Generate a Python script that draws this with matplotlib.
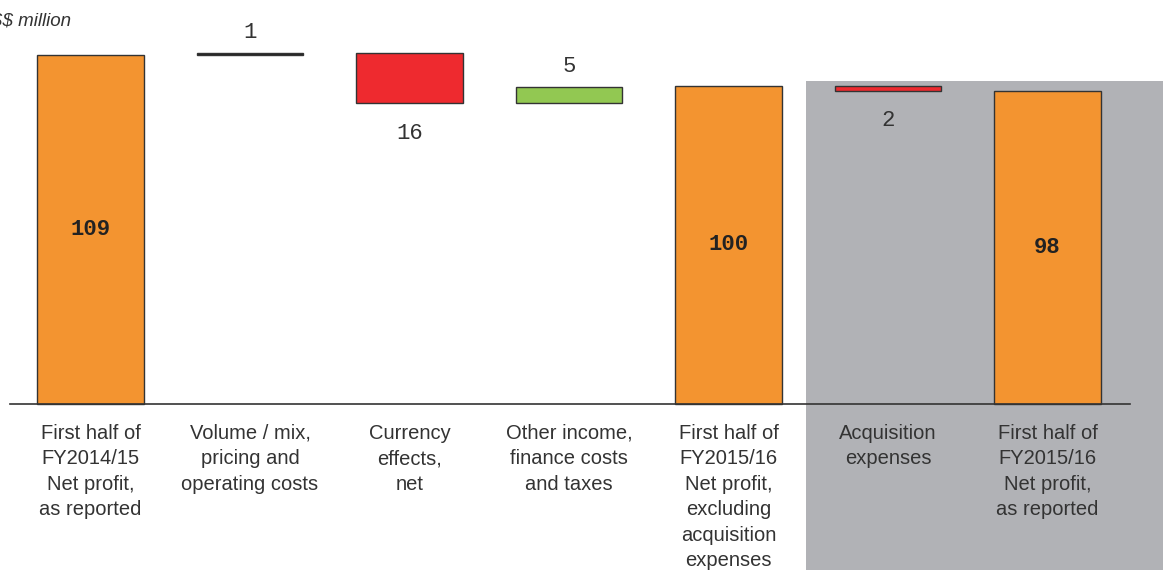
"""
Waterfall chart: half-year net profit bridge (S$ million)
"""

import matplotlib
matplotlib.use('Agg')
import matplotlib.pyplot as plt
from matplotlib.patches import Rectangle

# Data
categories = [
    'First half of\nFY2014/15\nNet profit,\nas reported',
    'Volume / mix,\npricing and\noperating costs',
    'Currency\neffects,\nnet',
    'Other income,\nfinance costs\nand taxes',
    'First half of\nFY2015/16\nNet profit,\nexcluding\nacquisition\nexpenses',
    'Acquisition\nexpenses',
    'First half of\nFY2015/16\nNet profit,\nas reported',
]
values = [109.4, 0.6, -15.7, 5.0, 99.7, -1.6, 98.1]
kinds = ['total', 'delta', 'delta', 'delta', 'total', 'delta', 'total']
value_labels = ['109', '1', '16', '5', '100', '2', '98']
unit_label = 'S$ million'

ORANGE = '#F39430'
RED = '#EE2A2F'
GREEN = '#92C852'
FLAT = '#222222'
GREY = '#B1B2B6'
EDGE = '#333333'
TEXT = '#333333'

fig = plt.figure(figsize=(11.63, 5.70), dpi=100)
ax = fig.add_axes([0, 0, 1, 1])
ax.set_xlim(-0.567, 6.724)
ax.set_ylim(-52.0, 126.6)
ax.axis('off')

# grey highlight behind the acquisition part
ax.add_patch(Rectangle((4.486, -60), 3.0, 60 + 101.3, color=GREY, zorder=0, lw=0))

width = 0.67
running = 0.0
for i, (v, kind, lab) in enumerate(zip(values, kinds, value_labels)):
    if kind == 'total':
        ax.bar(i, v, width, bottom=0, color=ORANGE, edgecolor=EDGE, linewidth=1, zorder=2)
        ax.text(i, v / 2, lab, ha='center', va='center', fontsize=16,
                family='Liberation Mono', fontweight='bold', color='#222222', zorder=3)
        running = v
    else:
        if abs(v) < 1:
            color = FLAT
        elif v > 0:
            color = GREEN
        else:
            color = RED
        bottom = running if v > 0 else running + v
        ax.bar(i, abs(v), width, bottom=bottom, color=color, edgecolor=EDGE,
               linewidth=1, zorder=2)
        if v > 0:
            ax.annotate(lab, (i, running + v), xytext=(0, 7), textcoords='offset points',
                        ha='center', va='bottom', fontsize=16,
                        family='Liberation Mono', color=TEXT)
        else:
            ax.annotate(lab, (i, running + v), xytext=(0, -14), textcoords='offset points',
                        ha='center', va='top', fontsize=16,
                        family='Liberation Mono', color=TEXT)
        running = running + v

# baseline
ax.plot([-0.505, 6.517], [0, 0], color=EDGE, linewidth=1.2, zorder=3)

# category labels
for i, cat in enumerate(categories):
    ax.text(i, -6.2, cat, ha='center', va='top', fontsize=14.5,
            family='Liberation Sans', color=TEXT, linespacing=1.43)

ax.text(-0.63, 120.0, unit_label, ha='left', va='center', fontsize=13.5,
        family='Liberation Sans', style='italic', color=TEXT)

plt.savefig('out.png', dpi=100)
plt.close()
